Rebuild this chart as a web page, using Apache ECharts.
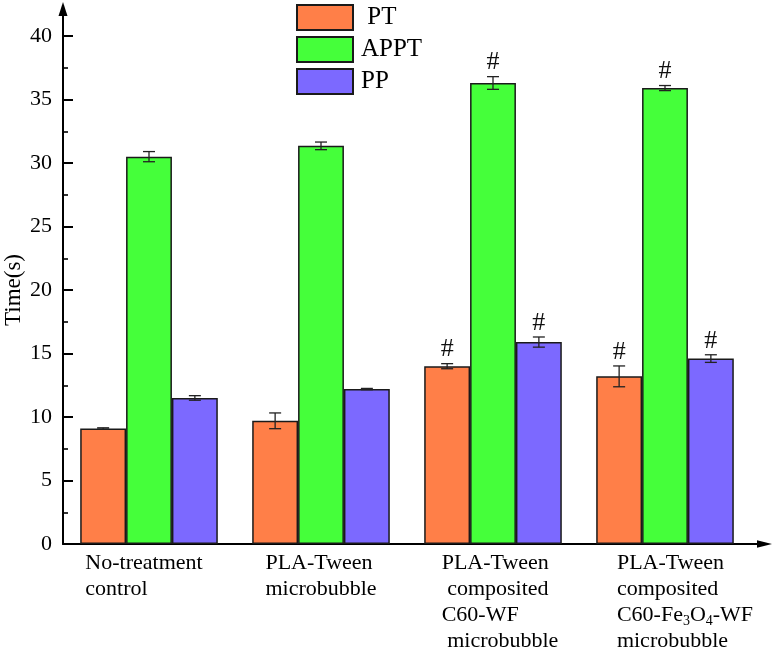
<!DOCTYPE html>
<html>
<head>
<meta charset="utf-8">
<script src="https://cdn.jsdelivr.net/npm/echarts@6/dist/echarts.min.js"></script>
<style>
html,body{margin:0;padding:0;background:#fff;}
#chart{width:774px;height:658px;}
</style>
</head>
<body>
<div id="chart"></div>
<script>
// ---- data ----
const categories = [
  'No-treatment\ncontrol',
  'PLA-Tween\nmicrobubble',
  'PLA-Tween\n composited\nC60-WF\n microbubble',
  'PLA-Tween\ncomposited\nC60-Fe3O4-WF\nmicrobubble'
];
const seriesNames = ['PT', 'APPT', 'PP'];
const ptValues   = [9.1, 9.7, 14.0, 13.2];
const ptErrors   = [0.05, 0.62, 0.2, 0.82];
const apptValues = [30.5, 31.35, 36.3, 35.9];
const apptErrors = [0.4, 0.3, 0.5, 0.2];
const ppValues   = [11.5, 12.2, 15.9, 14.6];
const ppErrors   = [0.18, 0.05, 0.4, 0.3];
const ptSig   = [0, 0, 1, 1];
const apptSig = [0, 0, 1, 1];
const ppSig   = [0, 0, 1, 1];
const yTicks = [0, 5, 10, 15, 20, 25, 30, 35, 40];

// ---- style ----
const colors = ['#FF7F48', '#45FF3A', '#7C69FF'];
const FONT = 'Liberation Serif';
const W = 774, H = 658;
const G = {left: 63, right: 23, top: 36, bottom: 114};
const labelPads = [[0, 10, 0, 0], [0, 0, 0, 0], [0, 0, 0, 14], [0, 0, 0, 40]];

const values = [ptValues, apptValues, ppValues];
const errors = [ptErrors, apptErrors, ppErrors];
const sigs = [ptSig, apptSig, ppSig];

function labelRich(text) {
  return text.split('\n').map(function (line) {
    if (line.indexOf('Fe3O4') >= 0) {
      const parts = line.split('Fe3O4');
      return '{t|' + parts[0] + 'Fe}{s|3}{t|O}{s|4}{t|' + parts[1] + '}';
    }
    return '{t|' + line + '}';
  }).join('\n');
}

const barSeries = seriesNames.map(function (name, s) {
  return {
    name: name,
    type: 'bar',
    data: values[s],
    barGap: '0%',
    barCategoryGap: '20%',
    itemStyle: {color: colors[s], borderColor: '#1a1a1a', borderWidth: 1.5},
    emphasis: {disabled: true},
    z: 2
  };
});

const errSeries = seriesNames.map(function (name, s) {
  return {
    name: name + '-err',
    type: 'custom',
    z: 5,
    silent: true,
    encode: {x: 0, y: 1},
    data: values[s].map(function (v, i) { return [i, v, errors[s][i], sigs[s][i]]; }),
    renderItem: function (params, api) {
      const ci = api.value(0), v = api.value(1), e = api.value(2), flag = api.value(3);
      const catW = api.size([1, 0])[0];
      const bw = catW * 0.8 / 3;
      const cx = api.coord([ci, v])[0] + (s - 1) * bw;
      const yTop = api.coord([ci, v + e])[1];
      const yBot = api.coord([ci, v - e])[1];
      const cap = 6;
      const st = {stroke: '#222', lineWidth: 1.3};
      const children = [
        {type: 'line', shape: {x1: cx, y1: yTop, x2: cx, y2: yBot}, style: st},
        {type: 'line', shape: {x1: cx - cap, y1: yTop, x2: cx + cap, y2: yTop}, style: st},
        {type: 'line', shape: {x1: cx - cap, y1: yBot, x2: cx + cap, y2: yBot}, style: st}
      ];
      if (flag) {
        children.push({
          type: 'text',
          style: {text: '#', x: cx, y: yTop - 1, align: 'center', verticalAlign: 'bottom',
                  font: '26px "' + FONT + '"', fill: '#111'}
        });
      }
      return {type: 'group', children: children};
    }
  };
});

const chart = echarts.init(document.getElementById('chart'), null, {renderer: 'canvas'});

const axisX0 = G.left, axisY0 = H - G.bottom, axisXEnd = W - G.right;

chart.setOption({
  backgroundColor: '#fff',
  animation: false,
  legend: {
    data: seriesNames,
    orient: 'vertical',
    left: 296,
    top: 4,
    padding: 0,
    icon: 'rect',
    itemWidth: 56,
    itemHeight: 25,
    itemGap: 5,
    selectedMode: false,
    formatter: function (n) { return n === 'PT' ? ' PT' : n; },
    textStyle: {fontFamily: FONT, fontSize: 25, color: '#000', padding: [0, 0, 0, 3]}
  },
  grid: {left: G.left, right: G.right, top: G.top, bottom: G.bottom, containLabel: false, outerBoundsMode: 'none'},
  xAxis: {
    type: 'category',
    data: categories.map(function (c, i) {
      return {value: c, textStyle: {padding: labelPads[i]}};
    }),
    axisLine: {show: true, lineStyle: {color: '#000', width: 2}},
    axisTick: {show: false},
    splitLine: {show: false},
    axisLabel: {
      interval: 0,
      margin: 6,
      color: '#000',
      formatter: function (v) { return labelRich(v); },
      rich: {
        t: {fontFamily: FONT, fontSize: 22, lineHeight: 26, align: 'left', color: '#000'},
        s: {fontFamily: FONT, fontSize: 14, lineHeight: 26, align: 'left', verticalAlign: 'bottom', color: '#000'}
      }
    }
  },
  yAxis: {
    type: 'value',
    min: 0,
    max: 40,
    interval: 5,
    name: 'Time(s)',
    nameLocation: 'middle',
    nameGap: 38,
    nameMoveOverlap: false,
    nameRotate: 90,
    nameTextStyle: {fontFamily: FONT, fontSize: 23, color: '#000'},
    axisLine: {show: true, lineStyle: {color: '#000', width: 2}},
    axisTick: {show: true, inside: true, length: 10, lineStyle: {color: '#000', width: 2}},
    minorTick: {show: true, splitNumber: 2, length: 5, lineStyle: {color: '#000', width: 1.6}},
    splitLine: {show: false},
    axisLabel: {
      margin: 11,
      color: '#000',
      fontFamily: FONT,
      fontSize: 22,
      formatter: function (v) { return yTicks.indexOf(v) >= 0 ? String(v) : ''; }
    }
  },
  series: barSeries.concat(errSeries),
  graphic: [
    {type: 'line', shape: {x1: axisX0, y1: G.top, x2: axisX0, y2: 12}, style: {stroke: '#000', lineWidth: 2}, z: 10},
    {type: 'polygon', shape: {points: [[axisX0, 2], [axisX0 - 4.5, 16], [axisX0 + 4.5, 16]]}, style: {fill: '#000'}, z: 10},
    {type: 'line', shape: {x1: axisXEnd, y1: axisY0, x2: 760, y2: axisY0}, style: {stroke: '#000', lineWidth: 2}, z: 10},
    {type: 'polygon', shape: {points: [[772, axisY0], [757, axisY0 - 3.8], [757, axisY0 + 3.8]]}, style: {fill: '#000'}, z: 10}
  ]
});
</script>
</body>
</html>
